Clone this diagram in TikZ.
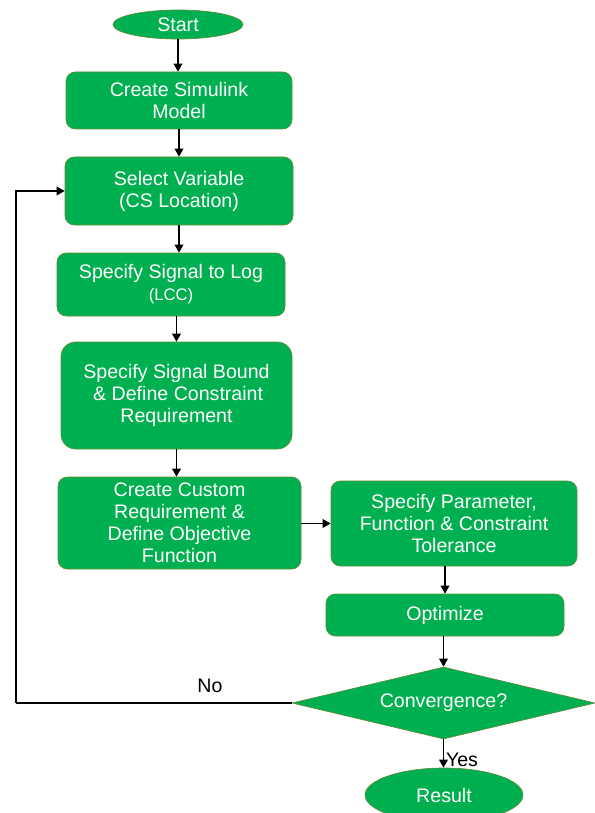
\documentclass[tikz,border=0pt]{standalone}
\usepackage{fontspec}
\setmainfont{Liberation Sans}
\usepackage{tikz}
\usetikzlibrary{arrows.meta,shapes.geometric}
\definecolor{FlowGreen}{HTML}{00B050}
\definecolor{FlowEdge}{HTML}{5E8C3A}

\begin{document}
\begin{tikzpicture}[x=0.75pt,y=-0.75pt,
		box/.style={rectangle,rounded corners=7pt,fill=FlowGreen,draw=FlowEdge,line width=0.5pt,text=white,align=center,inner sep=0pt,font=\fontsize{14.7}{16.5}\selectfont},
		oval/.style={ellipse,fill=FlowGreen,draw=FlowEdge,line width=0.5pt,text=white,inner sep=0pt,font=\fontsize{14.7}{16.5}\selectfont},
		choice/.style={diamond,aspect=4.2,fill=FlowGreen,draw=FlowEdge,line width=0.5pt,text=white,inner sep=0pt,font=\fontsize{14.7}{16.5}\selectfont},
		lbl/.style={inner sep=0pt,text=black,font=\fontsize{14.7}{16.5}\selectfont},
		arr/.style={line width=1pt,-{Triangle[length=6pt,width=6.5pt]}}]
		\useasboundingbox (0,0) rectangle (595,813);
		\fill[white] (0,0) rectangle (595,813);
		\node[oval,minimum width=97.5pt,minimum height=21.75pt] (start) at (178,24.5) {Start};
		\node[box,minimum width=169.5pt,minimum height=42.75pt] (simulink) at (179,100.5) {Create Simulink\\Model};
		\node[box,minimum width=171pt,minimum height=51pt] (select) at (179,191) {Select Variable\\(CS Location)};
		\node[box,minimum width=171pt,minimum height=47.25pt] (log) at (171,284.5) {Specify Signal to Log\\{\fontsize{12.5}{14}\selectfont(LCC)}};
		\node[box,rounded corners=11pt,minimum width=173.25pt,minimum height=80.25pt] (bound) at (176.5,395.5) {Specify Signal Bound\\\,\& Define Constraint\\Requirement};
		\node[box,minimum width=182.25pt,minimum height=69pt] (custom) at (179.5,523) {Create Custom\\Requirement \&\\Define Objective\\Function};
		\node[box,minimum width=184.5pt,minimum height=63.75pt] (param) at (454,523.5) {Specify Parameter,\\Function \& Constraint\\Tolerance};
		\node[box,minimum width=178.5pt,minimum height=31.5pt] (optim) at (445,615) {Optimize};
		\node[choice,minimum width=227.25pt,minimum height=54pt] (conv) at (443.5,703) {Convergence?};
		\node[oval,minimum width=118.5pt,minimum height=40.5pt] (result) at (444,795) {Result};
		\node[lbl] (no) at (210,686) {No};
		\node[lbl] (yes) at (462,760) {Yes};
		\coordinate (loop) at (16,703);
		\draw[arr] (start.south) -- (start.south |- simulink.north);
		\draw[arr] (simulink.south) -- (simulink.south |- select.north);
		\draw[arr] (select.south) -- (select.south |- log.north);
		\draw[arr] (bound.north |- log.south) -- (bound.north);
		\draw[arr] (bound.south) -- (bound.south |- custom.north);
		\draw[arr] (custom.east |- param) -- (param.west);
		\draw[arr] (optim.north |- param.south) -- (optim.north);
		\draw[arr] (optim.south -| conv) -- (conv.north);
		\draw[arr] (conv.south) -- (conv.south |- result.north);
		\draw[line width=1pt] (conv.west) -- (loop);
		\draw[arr] (loop) |- (select.west);
	\end{tikzpicture}
\end{document}
